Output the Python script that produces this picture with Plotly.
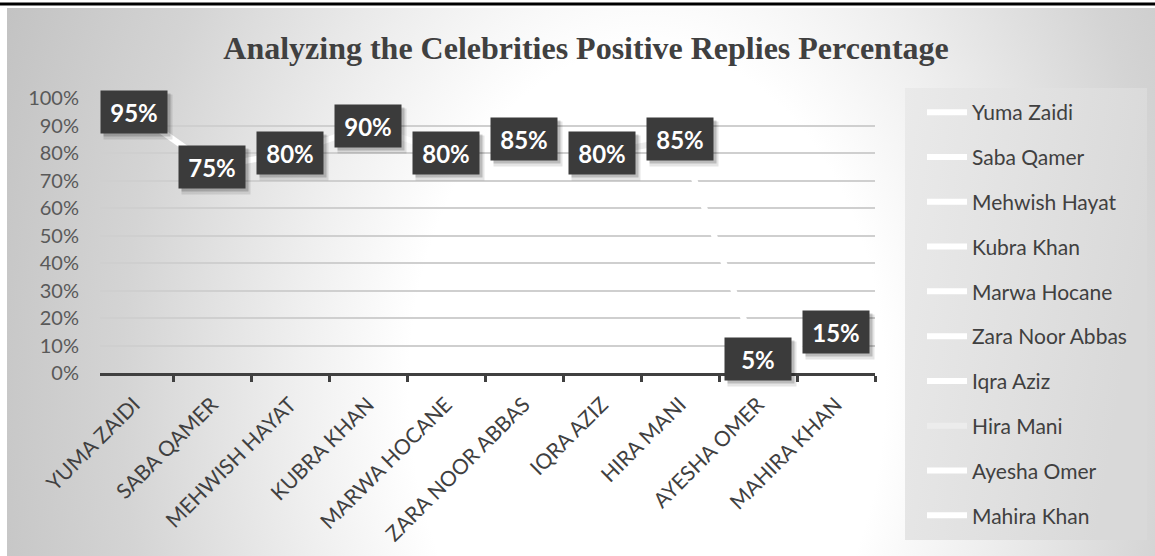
import plotly.graph_objects as go

# Data
celebrities = ["Yuma Zaidi", "Saba Qamer", "Mehwish Hayat", "Kubra Khan", "Marwa Hocane",
               "Zara Noor Abbas", "Iqra Aziz", "Hira Mani", "Ayesha Omer", "Mahira Khan"]
positive_pct = [95, 75, 80, 90, 80, 85, 80, 85, 5, 15]
segment_colors = ["#ffffff", "#ffffff", "#ffffff", "#ffffff", "#ffffff",
                  "#ffffff", "#ffffff", "#ececec", "#ffffff", "#ffffff"]
y_ticks = list(range(0, 101, 10))
categories = [c.upper() for c in celebrities]

W, H = 1155, 556
L, R, T, B = 100, 280, 98, 183
PW, PH = W - L - R, H - T - B

FONT = "Lato, Open Sans, sans-serif"


def px_x(p):
    return (p - L) / PW


def px_y(p):
    return (H - B - p) / PH


fig = go.Figure()

# one line segment per celebrity, ending at that celebrity's point
for i, name in enumerate(celebrities):
    if i == 0:
        xs, ys = [categories[0]], [positive_pct[0]]
    else:
        xs, ys = categories[i - 1:i + 1], positive_pct[i - 1:i + 1]
    fig.add_trace(go.Scatter(
        x=xs, y=ys, mode="lines", name=name, legendgroup=name,
        line=dict(color=segment_colors[i], width=6),
        hoverinfo="skip",
    ))

# value labels: soft shadow boxes then dark boxes
for cat, v in zip(categories, positive_pct):
    fig.add_annotation(x=cat, y=v, text="", showarrow=False,
                       width=66, height=42, bgcolor="rgba(0,0,0,0.10)",
                       xshift=4, yshift=-5)
    fig.add_annotation(x=cat, y=v, text="", showarrow=False,
                       width=64, height=40, bgcolor="rgba(0,0,0,0.18)",
                       xshift=3, yshift=-3)
for cat, v in zip(categories, positive_pct):
    fig.add_annotation(x=cat, y=v, text=f"<b>{v}%</b>", showarrow=False,
                       width=64, height=40, bgcolor="#3b3b3b",
                       font=dict(family=FONT, size=24, color="#ffffff"))

# chart-area background: soft elliptical gradient, white near the middle
gradient_svg = (
    "data:image/svg+xml;utf8,"
    "<svg xmlns='http://www.w3.org/2000/svg' width='1148' height='548' preserveAspectRatio='none'>"
    "<defs><radialGradient id='g' gradientUnits='userSpaceOnUse' cx='0' cy='0' r='1' "
    "gradientTransform='translate(640 380) scale(700 1000)'>"
    "<stop offset='0' stop-color='%23ffffff'/>"
    "<stop offset='0.34' stop-color='%23ffffff'/>"
    "<stop offset='0.5' stop-color='%23efefef'/>"
    "<stop offset='0.75' stop-color='%23d4d4d4'/>"
    "<stop offset='1' stop-color='%23c2c2c2'/>"
    "</radialGradient></defs>"
    "<rect width='1148' height='548' fill='url(%23g)'/></svg>"
)

# legend panel fill
legend_svg = (
    "data:image/svg+xml;utf8,"
    "<svg xmlns='http://www.w3.org/2000/svg' width='242' height='452' preserveAspectRatio='none'>"
    "<defs><linearGradient id='l' x1='0' y1='0' x2='1' y2='0.3'>"
    "<stop offset='0' stop-color='%23eaeaea'/>"
    "<stop offset='1' stop-color='%23d9d9d9'/>"
    "</linearGradient></defs>"
    "<rect width='242' height='452' fill='url(%23l)'/></svg>"
)

fig.update_layout(
    width=W, height=H,
    margin=dict(l=L, r=R, t=T, b=B, autoexpand=False),
    paper_bgcolor="#ffffff",
    plot_bgcolor="rgba(0,0,0,0)",
    images=[
        dict(source=gradient_svg, xref="paper", yref="paper",
             x=px_x(7), y=px_y(8), sizex=(W - 7) / PW, sizey=(H - 8) / PH,
             xanchor="left", yanchor="top", sizing="stretch", layer="below"),
        dict(source=legend_svg, xref="paper", yref="paper",
             x=px_x(905), y=px_y(88), sizex=242 / PW, sizey=452 / PH,
             xanchor="left", yanchor="top", sizing="stretch", layer="below"),
    ],
    shapes=[
        dict(type="line", xref="paper", yref="paper",
             x0=px_x(0), x1=px_x(W), y0=px_y(4), y1=px_y(4),
             line=dict(color="#000000", width=3)),
    ],
    title=dict(text="<b>Analyzing the Celebrities Positive Replies Percentage</b>",
               x=586 / W, xanchor="center", y=1 - 48 / H, yanchor="middle",
               font=dict(family="Liberation Serif, Times New Roman, serif", size=32, color="#404040")),
    xaxis=dict(
        type="category", categoryorder="array", categoryarray=categories,
        showgrid=False, showline=True, linecolor="#404040", linewidth=3,
        ticks="outside", tickson="boundaries", ticklen=6, tickwidth=3, tickcolor="#404040",
        tickangle=-45, ticklabelstandoff=8, automargin=False,
        tickfont=dict(family=FONT, size=21, color="#404040"),
        zeroline=False,
    ),
    yaxis=dict(
        range=[0, 100], tickvals=y_ticks, ticktext=[f"{t}%" for t in y_ticks],
        showgrid=True, gridcolor="#cfcfcf", gridwidth=1.5, zeroline=False, showline=False,
        ticklabelstandoff=20, automargin=False,
        tickfont=dict(family=FONT, size=20, color="#595959"),
    ),
    legend=dict(
        xref="container", yref="container",
        x=922 / W, y=1 - 92 / H, xanchor="left", yanchor="top",
        bgcolor="rgba(0,0,0,0)", tracegroupgap=14.5, itemwidth=40, maxheight=600,
        font=dict(family=FONT, size=21, color="#404040"),
    ),
    showlegend=True,
)

fig.write_html("out.html")
